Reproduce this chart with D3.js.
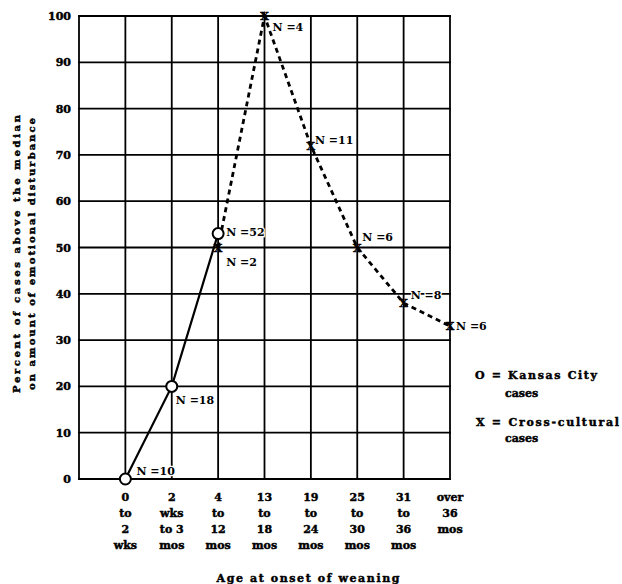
<!DOCTYPE html>
<html>
<head>
<meta charset="utf-8">
<script src="https://cdn.jsdelivr.net/npm/d3@7"></script>
<style>
  html, body { margin: 0; padding: 0; background: #fff; }
  svg { display: block; }
</style>
</head>
<body>
<div id="chart"></div>
<script>
// Age groups along the x axis
const categories = [
    "0 to 2 wks", "2 wks to 3 mos", "4 to 12 mos", "13 to 18 mos",
    "19 to 24 mos", "25 to 30 mos", "31 to 36 mos", "over 36 mos"
];
const tickLines = [
    ["0", "to", "2", "wks"],
    ["2", "wks", "to 3", "mos"],
    ["4", "to", "12", "mos"],
    ["13", "to", "18", "mos"],
    ["19", "to", "24", "mos"],
    ["25", "to", "30", "mos"],
    ["31", "to", "36", "mos"],
    ["over", "36", "mos"]
];
const yTicks = [0, 10, 20, 30, 40, 50, 60, 70, 80, 90, 100];

// Kansas City cases (O, solid line)
const kansasCats = ["0 to 2 wks", "2 wks to 3 mos", "4 to 12 mos"];
const kansasValues = [0, 20, 53];
const kansasN = [10, 18, 52];

// Cross-cultural cases (X, dashed line)
const crossCats = ["4 to 12 mos", "13 to 18 mos", "19 to 24 mos", "25 to 30 mos", "31 to 36 mos", "over 36 mos"];
const crossValues = [50, 100, 72, 50, 38, 33];
const crossN = [2, 4, 11, 6, 8, 6];

// Label placement next to each point (layout only)
const kansasLabelOffsets = [[11, -4], [4, 18], [8, 2]];
const crossLabelOffsets = [[8, 18], [8, 15], [4, -2], [5, -7], [7, -4], [6, 4]];

const width = 622;
const height = 584;
const plotLeft = 79, plotRight = 450, plotTop = 16, plotBottom = 479;
const step = (plotRight - plotLeft) / categories.length;
const font = "'DejaVu Serif', serif";
const ink = "#000";

const x = d3.scalePoint()
    .domain(categories)
    .range([plotLeft + step, plotRight]);

const y = d3.scaleLinear()
    .domain([0, 100])
    .range([plotBottom, plotTop]);

const svg = d3.select("#chart")
    .append("svg")
    .attr("width", width)
    .attr("height", height)
    .attr("font-family", font)
    .attr("font-weight", "bold")
    .attr("font-size", 11);

// heavier "printed" text
function ink_(sel) {
    return sel.attr("fill", ink).attr("stroke", ink).attr("stroke-width", 0.45);
}

// Grid
const grid = svg.append("g")
    .attr("stroke", ink)
    .attr("stroke-width", 1.8)
    .attr("stroke-linecap", "square")
    .attr("fill", "none");

grid.selectAll(".h")
    .data(yTicks)
    .join("line")
    .attr("x1", x(categories[0]) - step)
    .attr("x2", x(categories[categories.length - 1]))
    .attr("y1", d => y(d))
    .attr("y2", d => y(d));

grid.selectAll(".v")
    .data([x(categories[0]) - step, ...categories.map(c => x(c))])
    .join("line")
    .attr("x1", d => d)
    .attr("x2", d => d)
    .attr("y1", y(0))
    .attr("y2", y(100));

// Y axis labels
const yAxis = svg.append("g")
    .attr("transform", `translate(${plotLeft},0)`)
    .call(d3.axisLeft(y).tickValues(yTicks).tickSize(0).tickPadding(8));
yAxis.select(".domain").remove();
ink_(yAxis.selectAll("text")
    .attr("font-family", font)
    .attr("font-weight", "bold")
    .attr("font-size", 11));

// X tick labels (stacked lines)
const xLabels = ink_(svg.append("g")
    .attr("text-anchor", "middle"));
categories.forEach((c, i) => {
    const t = xLabels.append("text").attr("x", x(c)).attr("y", plotBottom + 22);
    tickLines[i].forEach((line, j) => {
        t.append("tspan")
            .attr("x", x(c))
            .attr("dy", j === 0 ? 0 : 16)
            .text(line);
    });
});

// Lines
const kansas = kansasCats.map((c, i) => ({ cat: c, value: kansasValues[i], n: kansasN[i], off: kansasLabelOffsets[i] }));
const cross = crossCats.map((c, i) => ({ cat: c, value: crossValues[i], n: crossN[i], off: crossLabelOffsets[i] }));

const line = d3.line()
    .x(d => x(d.cat))
    .y(d => y(d.value));

svg.append("path")
    .datum(cross)
    .attr("d", line)
    .attr("fill", "none")
    .attr("stroke", ink)
    .attr("stroke-width", 2.8)
    .attr("stroke-dasharray", "5,4");

svg.append("path")
    .datum(kansas)
    .attr("d", line)
    .attr("fill", "none")
    .attr("stroke", ink)
    .attr("stroke-width", 2.2);

// N labels
svg.append("g")
    .selectAll("text")
    .data([...kansas, ...cross])
    .join("text")
    .attr("x", d => x(d.cat) + d.off[0])
    .attr("y", d => y(d.value) + d.off[1])
    .attr("fill", ink)
    .attr("stroke", "#fff")
    .attr("stroke-width", 2.5)
    .attr("paint-order", "stroke")
    .text(d => `N =${d.n}`);

// Markers
svg.append("g")
    .selectAll("circle")
    .data(kansas)
    .join("circle")
    .attr("cx", d => x(d.cat))
    .attr("cy", d => y(d.value))
    .attr("r", 5.5)
    .attr("fill", "#fff")
    .attr("stroke", ink)
    .attr("stroke-width", 2);

ink_(svg.append("g")
    .selectAll("text")
    .data(cross)
    .join("text")
    .attr("x", d => x(d.cat))
    .attr("y", d => y(d.value) + 4)
    .attr("text-anchor", "middle")
    .attr("font-size", 11)
    .text("X"));

// Axis titles
const yTitle = ink_(svg.append("text")
    .attr("transform", `translate(0,254) rotate(-90)`)
    .attr("text-anchor", "middle")
    .attr("font-size", 10));
yTitle.append("tspan").attr("x", 0).attr("y", 20)
    .attr("textLength", 278).attr("lengthAdjust", "spacing")
    .text("Percent of cases above the median");
yTitle.append("tspan").attr("x", 0).attr("y", 35)
    .attr("textLength", 272).attr("lengthAdjust", "spacing")
    .text("on amount of emotional disturbance");

ink_(svg.append("text")
    .attr("x", 308)
    .attr("y", 582)
    .attr("text-anchor", "middle")
    .attr("textLength", 183)
    .attr("lengthAdjust", "spacing")
    .text("Age at onset of weaning"));

// Legend
const legend = ink_(svg.append("g"));
legend.append("text").attr("x", 475).attr("y", 379)
    .attr("textLength", 122).attr("lengthAdjust", "spacing")
    .text("O = Kansas City");
legend.append("text").attr("x", 505).attr("y", 397)
    .text("cases");
legend.append("text").attr("x", 476).attr("y", 426)
    .attr("textLength", 143).attr("lengthAdjust", "spacing")
    .text("X = Cross-cultural");
legend.append("text").attr("x", 505).attr("y", 442)
    .text("cases");
</script>
</body>
</html>
